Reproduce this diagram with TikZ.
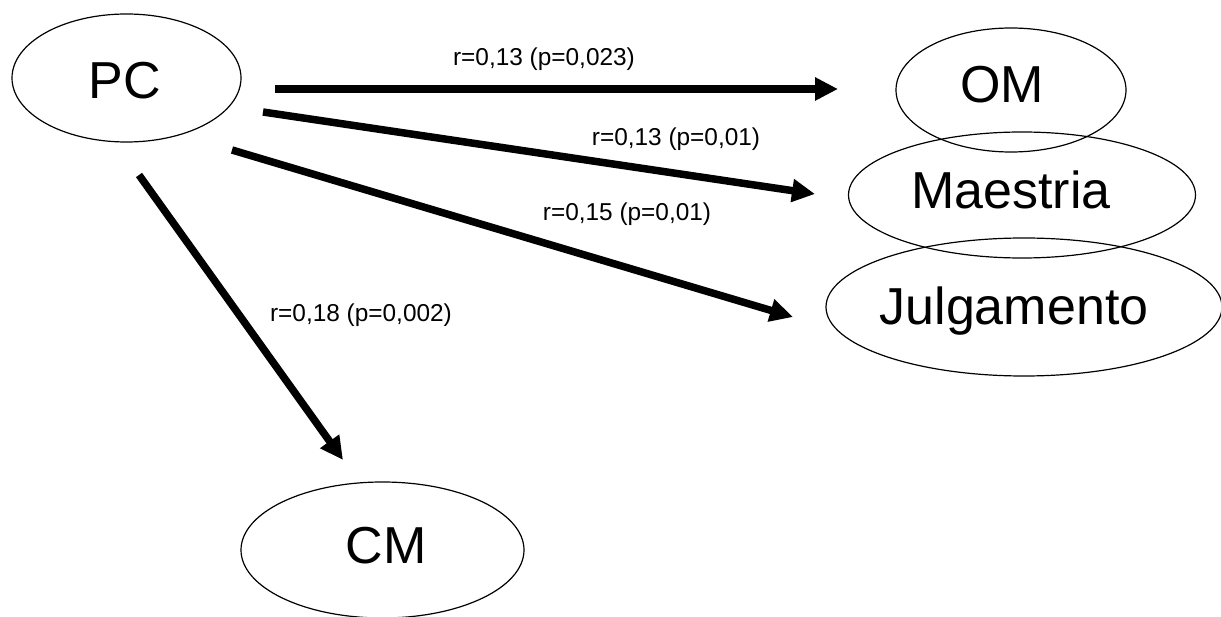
\documentclass[tikz,border=0pt]{standalone}
\usepackage{fontspec}
\setmainfont{Liberation Sans}
\usetikzlibrary{shapes.geometric,arrows.meta}
\begin{document}
\begin{tikzpicture}[x=1pt,y=-1pt,
  oval/.style={draw,ellipse,line width=1.2pt,inner sep=0pt},
  bigtext/.style={inner sep=0pt,font=\fontsize{52}{62}\selectfont,text height=37.2pt,text depth=0pt},
  smalltext/.style={inner sep=0pt,anchor=base,font=\fontsize{24.4}{29}\selectfont},
  conn/.style={line width=7.5pt,-{Triangle[length=23pt,width=22pt]}}]
\useasboundingbox (0,0) rectangle (1221,617);
% ellipses
\node[oval,minimum width=229pt,minimum height=128pt] (PCe) at (126.5,78) {};
\node[oval,minimum width=230pt,minimum height=124pt] (OMe) at (1011,90) {};
\node[oval,minimum width=347pt,minimum height=126pt] (MAe) at (1022,195) {};
\node[oval,minimum width=396pt,minimum height=138pt] (JUe) at (1024,307) {};
\node[oval,minimum width=283pt,minimum height=136pt] (CMe) at (382.5,550) {};
% texts
\node[bigtext] (PC) at (125,80) {PC};
\node[bigtext] (OM) at (1002,84) {OM};
\node[bigtext] (MA) at (1011,190) {Maestria};
\node[bigtext] (JU) at (1014,306) {Julgamento};
\node[bigtext] (CM) at (386,545) {CM};
% arrow ends
\coordinate (s1) at (275,89);  \coordinate (t1) at (838,89);
\coordinate (s2) at (263,112); \coordinate (t2) at (815,194);
\coordinate (s3) at (232,150); \coordinate (t3) at (793,317);
\coordinate (s4) at (139,175); \coordinate (t4) at (343,460);
\draw[conn] (s1) -- (t1);
\draw[conn] (s2) -- (t2);
\draw[conn] (s3) -- (t3);
\draw[conn] (s4) -- (t4);
% labels
\node[smalltext] (L1) at (544,66) {r=0,13 (p=0,023)};
\node[smalltext] (L2) at (676,146) {r=0,13 (p=0,01)};
\node[smalltext] (L3) at (627,221) {r=0,15 (p=0,01)};
\node[smalltext] (L4) at (361,322) {r=0,18 (p=0,002)};
\end{tikzpicture}
\end{document}
